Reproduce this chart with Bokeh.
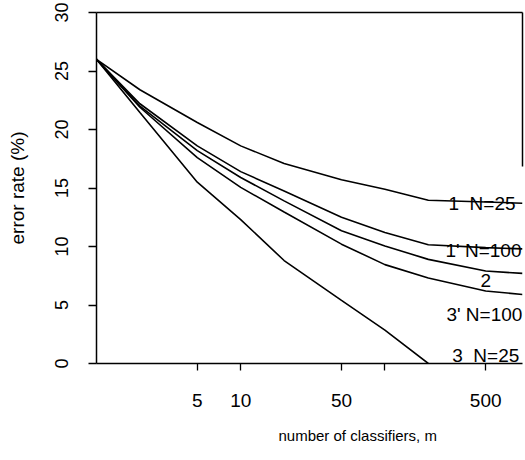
from bokeh.plotting import figure
from bokeh.models import FixedTicker, LogAxis, LinearAxis, Range1d, Title, ColumnDataSource
from bokeh.core.properties import value
from bokeh.embed import file_html
from bokeh.resources import INLINE

# number of classifiers m (log axis)
m_vals = [1, 2, 5, 10, 20, 50, 100, 200, 500, 900]
m_vals_3 = [1, 2, 5, 10, 20, 50, 100, 200]

# error rate (%) per curve
err_1 = [26, 23.4, 20.6, 18.6, 17.1, 15.7, 14.9, 13.95, 13.8, 13.7]
err_1p = [26, 22.2, 18.6, 16.4, 14.75, 12.5, 11.2, 10.15, 9.9, 9.8]
err_2 = [26, 22.0, 18.2, 15.9, 13.9, 11.35, 10.05, 8.9, 7.9, 7.7]
err_3p = [26, 21.9, 17.6, 15.05, 12.95, 10.2, 8.45, 7.3, 6.2, 5.9]
err_3 = [26, 21.45, 15.5, 12.3, 8.8, 5.4, 2.85, 0]

x_ticks = [5, 10, 50, 100, 500]
x_tick_labels = ["5", "10", "50", "", "500"]
y_ticks = [0, 5, 10, 15, 20, 25, 30]

curve_labels = ["1\u00a0 N=25", "1' N=100", "2", "3' N=100", "3\u00a0 N=25"]
label_m = [276, 263, 460, 267, 293]
label_err = [13.65, 9.67, 7.09, 4.18, 0.68]

FONT = "Liberation Sans"

p = figure(width=525, height=460, x_axis_type="log",
           x_range=Range1d(1, 900), y_range=Range1d(0, 30),
           output_backend="svg", toolbar_location=None,
           min_border_left=96, min_border_right=3, min_border_top=12,
           min_border_bottom=97)
p.outline_line_color = None
p.xgrid.visible = False
p.ygrid.visible = False
p.background_fill_color = "white"
p.border_fill_color = "white"

for ys, xs in [(err_1, m_vals), (err_1p, m_vals), (err_2, m_vals),
               (err_3p, m_vals), (err_3, m_vals_3)]:
    p.line(xs, ys, line_color="black", line_width=1.6)

src = ColumnDataSource(dict(x=label_m, y=label_err, t=curve_labels))
p.text(x="x", y="y", text="t", source=src, text_font=value(FONT),
       text_font_size="19px", text_color="black", text_align="left",
       text_baseline="alphabetic")

xa = p.xaxis[0]
xa.ticker = FixedTicker(ticks=x_ticks)
xa.major_label_overrides = {t: l for t, l in zip(x_ticks, x_tick_labels)}
xa.minor_tick_line_color = None
xa.major_tick_in = 0
xa.major_tick_out = 7
xa.major_label_standoff = 23
xa.major_label_text_font = FONT
xa.major_label_text_font_size = "19px"
xa.major_label_text_color = "black"
xa.axis_line_color = "black"
xa.axis_line_width = 1.5
xa.major_tick_line_width = 1.3

ya = p.yaxis[0]
ya.ticker = FixedTicker(ticks=y_ticks)
ya.minor_tick_line_color = None
ya.major_tick_in = 0
ya.major_tick_out = 8
ya.major_label_orientation = "vertical"
ya.major_label_standoff = 21
ya.major_label_text_font = FONT
ya.major_label_text_font_size = "18px"
ya.major_label_text_color = "black"
ya.axis_label = "error rate (%)"
ya.axis_label_text_font = FONT
ya.axis_label_text_font_size = "19px"
ya.axis_label_text_font_style = "normal"
ya.axis_label_text_color = "black"
ya.axis_label_standoff = 24
ya.axis_line_width = 1.5
ya.major_tick_line_width = 1.3

top = LogAxis(ticker=FixedTicker(ticks=[]), major_tick_out=0, major_tick_in=0,
              minor_tick_out=0, minor_tick_in=0, major_label_text_font_size="0px",
              axis_line_width=1.5)
p.add_layout(top, "above")
right = LinearAxis(ticker=FixedTicker(ticks=[]), bounds=(16.8, 30), major_tick_out=0,
                   major_tick_in=0, minor_tick_out=0, minor_tick_in=0,
                   major_label_text_font_size="0px", axis_line_width=1.5)
p.add_layout(right, "right")

xt = Title(text="number of classifiers, m", align="left", offset=182, standoff=30,
           text_font=FONT,
           text_font_size="15px", text_font_style="normal", text_color="black")
p.add_layout(xt, "below")

open("out.html", "w").write(file_html(p, INLINE))
